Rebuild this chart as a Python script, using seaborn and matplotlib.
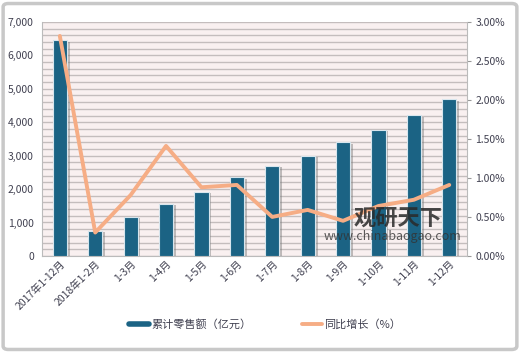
import matplotlib; matplotlib.use("Agg")
import numpy as np
import pandas as pd
import matplotlib.pyplot as plt
import matplotlib.patheffects as pe
from matplotlib.patches import FancyBboxPatch
from matplotlib.lines import Line2D
from matplotlib.ticker import FuncFormatter, MultipleLocator
import seaborn as sns

periods = ["2017年1-12月", "2018年1-2月", "1-3月", "1-4月", "1-5月", "1-6月",
           "1-7月", "1-8月", "1-9月", "1-10月", "1-11月", "1-12月"]
sales = [6450, 760, 1170, 1560, 1920, 2350, 2700, 3000, 3400, 3780, 4210, 4690]
growth = [2.82, 0.30, 0.78, 1.41, 0.88, 0.91, 0.50, 0.59, 0.45, 0.64, 0.72, 0.91]

BAR = "#1b6384"
LINE = "#f6ad85"
TXT = "#404050"

sns.set_style("white")
plt.rcParams["font.family"] = ["Noto Sans CJK SC", "DejaVu Sans"]

df = pd.DataFrame({"period": periods, "sales": sales, "growth": growth,
                   "pos": np.arange(len(periods))})

fig = plt.figure(figsize=(5.2, 3.53), dpi=100)
ax = fig.add_axes([0.081, 0.275, 0.817, 0.663])
ax.set_facecolor("#f9f0f0")

sns.barplot(data=df, x="period", y="sales", color=BAR, width=0.4,
            saturation=1, edgecolor="#d8e6ee", linewidth=0.8, ax=ax, zorder=3)
for p in ax.patches:
    p.set_path_effects([pe.SimplePatchShadow(offset=(2, -1), shadow_rgbFace="#777777", alpha=0.45),
                        pe.Normal()])

ax.set_ylim(0, 7000)
ax.set_xlim(-0.5, len(periods) - 0.5)
ax.yaxis.set_major_locator(MultipleLocator(1000))
ax.yaxis.set_minor_locator(MultipleLocator(200))
ax.yaxis.set_major_formatter(FuncFormatter(lambda v, _: f"{int(v):,}"))
ax.grid(axis="y", which="both", color="#c4bdbd", linewidth=1.0, zorder=0)
ax.set_axisbelow(True)
ax.set_xlabel(""); ax.set_ylabel("")
ax.tick_params(axis="y", which="both", length=0, labelsize=7.5, labelcolor=TXT, pad=6)
ax.tick_params(axis="x", length=0, labelsize=7.5, labelcolor=TXT, pad=2)
plt.setp(ax.get_xticklabels(), rotation=45, ha="right", rotation_mode="anchor")
for s in ["top", "right"]:
    ax.spines[s].set_visible(False)
ax.spines["left"].set_color("#bbbbbb")
ax.spines["bottom"].set_color("#bbbbbb")

ax2 = ax.twinx()
sns.lineplot(data=df, x="pos", y="growth", color=LINE, linewidth=2.8, ax=ax2, zorder=4)
ax2.set_ylim(0, 3.0)
ax2.yaxis.set_major_locator(MultipleLocator(0.5))
ax2.yaxis.set_major_formatter(FuncFormatter(lambda v, _: f"{v:.2f}%"))
ax2.tick_params(axis="y", length=3, color="#999999", labelsize=7.5, labelcolor=TXT, pad=3)
ax2.set_ylabel("")
for s in ["top", "left", "bottom"]:
    ax2.spines[s].set_visible(False)
ax2.spines["right"].set_color("#bbbbbb")

# watermark
fig.text(0.765, 0.382, "观研天下", fontsize=16, fontweight="bold", color="#2a2a2a",
         ha="center", va="center", alpha=0.85)
fig.text(0.755, 0.329, "www.chinabaogao.com", fontsize=9, color="#333333",
         ha="center", va="center", alpha=0.8)

handles = [Line2D([], [], color=BAR, linewidth=4), Line2D([], [], color=LINE, linewidth=2.8)]
labels = ["累计零售额（亿元）", "同比增长（%）"]
fig.legend(handles, labels, loc="center", bbox_to_anchor=(0.51, 0.08), ncol=2,
           frameon=False, fontsize=8, handlelength=1.8, handletextpad=0.2,
           columnspacing=4.5, labelcolor=TXT)

border = FancyBboxPatch((0.006, 0.01), 0.988, 0.98, boxstyle="round,pad=0,rounding_size=0.01",
                        transform=fig.transFigure, fill=False, edgecolor="#c8c8c8",
                        linewidth=2.5)
fig.patches.append(border)

fig.savefig("out.png", dpi=100)
